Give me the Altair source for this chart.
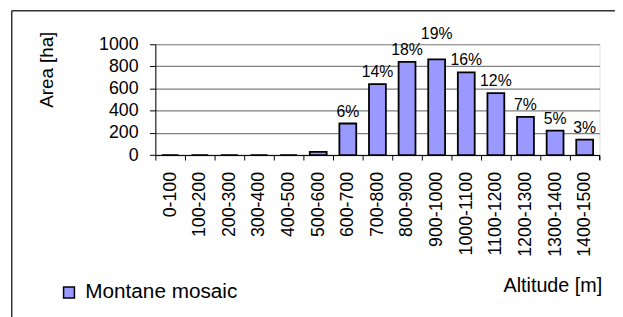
import altair as alt
import pandas as pd

categories = ["0-100", "100-200", "200-300", "300-400", "400-500", "500-600",
              "600-700", "700-800", "800-900", "900-1000", "1000-1100",
              "1100-1200", "1200-1300", "1300-1400", "1400-1500"]
area_ha = [0, 0, 0, 0, 0, 30, 285, 640, 842, 863, 747, 560, 345, 220, 140]
share_pct = [None, None, None, None, None, None, 6, 14, 18, 19, 16, 12, 7, 5, 3]
y_ticks = [0, 200, 400, 600, 800, 1000]
series_name = "Montane mosaic"
y_title = "Area [ha]"
x_title = "Altitude [m]"

df = pd.DataFrame({
    "altitude": categories,
    "area": area_ha,
    "pct": share_pct,
    "series": [series_name] * len(categories),
})

FONT = "Liberation Sans"
W, H = 450, 112.3
PAD_L, PAD_T = 149.3, 34.7

x_axis = alt.Axis(
    title=None,
    labelAngle=-90, labelPadding=11.5, labelOverlap=False,
    labelFontSize=18, labelFont=FONT, labelColor="black",
    tickSize=5, tickBand="extent", grid=False,
    tickColor="black", domainColor="black",
)
y_axis = alt.Axis(
    values=y_ticks, format="d", title=None,
    labelPadding=11.5, labelOverlap=False, labelFlush=False,
    labelFontSize=18, labelFont=FONT, labelColor="black",
    tickSize=6, grid=True, gridColor="#808080", gridWidth=1.2,
    tickColor="black", domainColor="black",
)
x_scale = alt.Scale(paddingInner=0, paddingOuter=0)
y_scale = alt.Scale(domain=[0, 1000], nice=False)


def x_enc():
    return alt.X("altitude:N", sort=categories, scale=x_scale, axis=x_axis)


def y_enc():
    return alt.Y("area:Q", scale=y_scale, axis=y_axis)


bars = alt.Chart(df).mark_bar(
    width=alt.RelativeBandSize(0.57), stroke="black", strokeWidth=1.8
).encode(
    x=x_enc(),
    y=y_enc(),
    color=alt.Color(
        "series:N",
        scale=alt.Scale(range=["#9999ff"]),
        legend=alt.Legend(
            orient="none", legendX=-98, legendY=241, title=None,
            symbolType="square", symbolSize=121, symbolStrokeColor="black",
            symbolStrokeWidth=1.5, labelFontSize=21, labelFont=FONT,
            labelColor="black", labelOffset=6,
        ),
    ),
)


def pct_labels(flt, dy):
    return alt.Chart(df).transform_filter(
        "isValid(datum.pct)"
    ).transform_filter(flt).transform_calculate(
        label="datum.pct + '%'"
    ).mark_text(
        baseline="alphabetic", align="center", fontSize=16, font=FONT,
        color="black", dy=dy,
    ).encode(
        x=x_enc(),
        y=y_enc(),
        text="label:N",
    )


labels_main = pct_labels("datum.pct != 19", -7)
labels_peak = pct_labels("datum.pct == 19", -21)

one = alt.Data(values=[{}])
y_title_mark = alt.Chart(one).mark_text(
    text=y_title, angle=270, fontSize=19, font=FONT, color="black",
    align="center", baseline="alphabetic",
).encode(x=alt.value(-103.5), y=alt.value(25.8))
x_title_mark = alt.Chart(one).mark_text(
    text=x_title, fontSize=20, font=FONT, color="black",
    align="right", baseline="alphabetic",
).encode(x=alt.value(452.7), y=alt.value(H + 138.3))
end_tick = alt.Chart(one).mark_rule(color="black", strokeWidth=1).encode(
    x=alt.value(W), y=alt.value(H), y2=alt.value(H + 5)
)
frame_top = alt.Chart(one).mark_rule(color="#333333", strokeWidth=1.5).encode(
    x=alt.value(-145.5), x2=alt.value(470), y=alt.value(-34.0)
)
frame_left = alt.Chart(one).mark_rule(color="#333333", strokeWidth=1.5).encode(
    x=alt.value(-145.5), y=alt.value(-34.0), y2=alt.value(280)
)

chart = alt.layer(
    frame_top, frame_left, bars, labels_main, labels_peak,
    end_tick, y_title_mark, x_title_mark,
).properties(
    width=W, height=H,
    padding={"left": PAD_L, "top": PAD_T, "right": 15.7, "bottom": 162},
    autosize=alt.AutoSizeParams(type="none"),
).configure_view(stroke=None).configure(background="white")

chart.save("out.html", embed_options={"renderer": "svg", "actions": False})
